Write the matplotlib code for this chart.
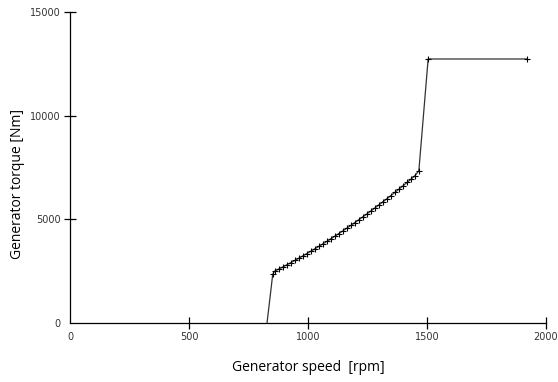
import matplotlib
matplotlib.use("Agg")
import matplotlib.pyplot as plt

# generator speed [rpm] and torque [Nm]
foot_speed = [828]
foot_torque = [0]
curve_speed = [852, 860, 877, 894, 911, 928, 945, 961, 978, 995, 1012, 1029, 1045,
               1062, 1079, 1096, 1113, 1130, 1146, 1163, 1180, 1197, 1214, 1230,
               1247, 1264, 1281, 1298, 1315, 1331, 1348, 1365, 1382, 1399, 1416,
               1432, 1449, 1466]
curve_torque = [2350, 2500, 2600, 2700, 2805, 2910, 3018, 3121, 3233, 3346, 3462,
                3579, 3691, 3812, 3935, 4060, 4187, 4316, 4439, 4572, 4706, 4843,
                4981, 5114, 5256, 5400, 5546, 5695, 5845, 5988, 6142, 6298, 6455,
                6615, 6777, 6931, 7097, 7350]
top_speed = [1505, 1919]
top_torque = [12735, 12735]

x_ticks = [0, 500, 1000, 1500, 2000]
y_ticks = [0, 5000, 10000, 15000]

speed = foot_speed + curve_speed + top_speed
torque = foot_torque + curve_torque + top_torque

fig = plt.figure(figsize=(5.58, 3.82), dpi=100)
ax = fig.add_axes([0.1254, 0.1545, 0.853, 0.814])

ax.plot(speed, torque, color="#333333", lw=0.9)
ax.plot(speed[1:], torque[1:], ls="none", marker="+", ms=4.5, mew=0.8, color="black")

ax.set_xlim(0, 2000)
ax.set_ylim(0, 15000)
ax.set_xticks(x_ticks)
ax.set_yticks(y_ticks)
ax.tick_params(direction="inout", length=9, width=0.9, labelsize=7,
               labelcolor="#333333", pad=2)
# the reference draws no tick mark at the origin
ax.xaxis.get_major_ticks()[0].tick1line.set_visible(False)
ax.yaxis.get_major_ticks()[0].tick1line.set_visible(False)
for s in ["top", "right"]:
    ax.spines[s].set_visible(False)
for s in ["left", "bottom"]:
    ax.spines[s].set_linewidth(0.9)

ax.set_xlabel("Generator speed  [rpm]", fontsize=10, labelpad=13, family="Open Sans")
ax.set_ylabel("Generator torque [Nm]", fontsize=10, family="Open Sans")
ax.yaxis.set_label_coords(-0.094, 0.447)

fig.savefig("out.png", dpi=100)
